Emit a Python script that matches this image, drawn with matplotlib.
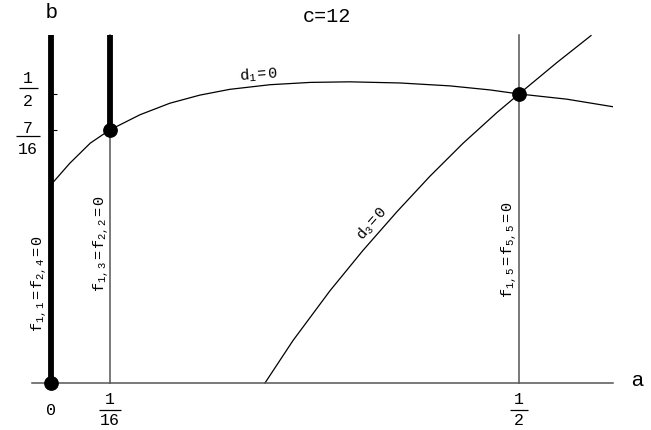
import matplotlib
matplotlib.use("Agg")
import matplotlib.pyplot as plt
from matplotlib.transforms import offset_copy

# monospace look for the maths labels
plt.rcParams['mathtext.fontset'] = 'custom'
plt.rcParams['mathtext.rm'] = 'Liberation Mono'
plt.rcParams['mathtext.it'] = 'Liberation Mono'
plt.rcParams['mathtext.bf'] = 'Liberation Mono'

MONO = 'Liberation Mono'

# * data
d1_a = [0.0, 0.020, 0.042, 0.0625, 0.095, 0.127, 0.159, 0.191, 0.234, 0.277,
        0.319, 0.373, 0.426, 0.469, 0.5, 0.551, 0.600]
d1_b = [0.343, 0.380, 0.415, 0.4375, 0.464, 0.484, 0.498, 0.508, 0.516, 0.520,
        0.521, 0.519, 0.514, 0.507, 0.5, 0.491, 0.478]

d3_a = [0.2286, 0.2585, 0.2981, 0.3333, 0.3697, 0.4049, 0.4402, 0.4765, 0.5,
        0.5406, 0.5769]
d3_b = [0.0, 0.0734, 0.1597, 0.2294, 0.2965, 0.3578, 0.4147, 0.4680, 0.5,
        0.5545, 0.601]

thin_a = [1/16, 1/2]          # thin vertical lines f=0
thick_a = [0, 1/16]           # thick vertical segments
thick_from = [0, 7/16]        # where the thick segments start
dots_a = [0, 1/16, 1/2]
dots_b = [0, 7/16, 1/2]

xmin, xmax = -0.0203, 0.6004
ymin, ymax = 0.0, 0.602

# * figure
fig = plt.figure(figsize=(6.51, 4.30), dpi=100)
ax = fig.add_axes([32/651, 47/430, 581/651, 348/430])
ax.set_xlim(xmin, xmax)
ax.set_ylim(ymin, ymax)

for s in ['top', 'right']:
    ax.spines[s].set_visible(False)
ax.spines['left'].set_position(('data', 0))
ax.spines['left'].set_visible(False)
ax.spines['bottom'].set_color('#555555')
ax.spines['bottom'].set_linewidth(1.1)

ax.set_xticks([0])
ax.set_xticklabels([''])
ax.set_yticks([7/16, 1/2])
ax.set_yticklabels(['', ''])
ax.tick_params(axis='x', direction='out', length=4, width=0.8, color='#555555')
ax.tick_params(axis='y', direction='in', length=4, width=0.8, color='k')

# thin lines
for xa in thin_a:
    ax.plot([xa, xa], [ymin, ymax], color='#555555', lw=1.1, clip_on=False)
# thick lines
for xa, y0 in zip(thick_a, thick_from):
    ax.plot([xa, xa], [y0, ymax], color='k', lw=4.2, solid_capstyle='butt', clip_on=False)

# curves
ax.plot(d1_a, d1_b, color='k', lw=0.9)
ax.plot(d3_a, d3_b, color='k', lw=0.9, clip_on=False)

# points
ax.plot(dots_a, dots_b, 'o', color='k', ms=9.6, clip_on=False, zorder=5)

# curve labels
ax.text(0.2222, 0.533, r'$\mathrm{d}_1\mathrm{=0}$', fontsize=11, ha='center', va='center', rotation=4)
ax.text(0.343, 0.275, r'$\mathrm{d}_3\mathrm{=0}$', fontsize=11, ha='center', va='center', rotation=49)
ax.text(-0.0128, 0.171, r'$\mathrm{f}_{1,1}\mathrm{=f}_{2,4}\mathrm{=0}$', fontsize=11,
        ha='center', va='center', rotation=90)
ax.text(0.0534, 0.2405, r'$\mathrm{f}_{1,3}\mathrm{=f}_{2,2}\mathrm{=0}$', fontsize=11,
        ha='center', va='center', rotation=90)
ax.text(0.4893, 0.2301, r'$\mathrm{f}_{1,5}\mathrm{=f}_{5,5}\mathrm{=0}$', fontsize=11,
        ha='center', va='center', rotation=90)


# ! fraction tick labels, offsets in pixels (up is positive)
def frac(x, y, num, den, dx, num_dy, bar_dy, den_dy, w):
    for txt, oy in ((num, num_dy), (den, den_dy)):
        ax.annotate(txt, (x, y), xytext=(dx*0.72, (oy - 5.3)*0.72), textcoords='offset points',
                    ha='center', va='baseline', fontsize=12, family=MONO, annotation_clip=False)
    ax.plot(x, y, marker='_', ms=w*0.72, mew=0.9, color='k', clip_on=False,
            transform=offset_copy(ax.transData, fig=fig, x=dx, y=bar_dy, units='dots'))


ax.annotate('0', (0, 0), xytext=(0, (-27 - 5.3)*0.72), textcoords='offset points',
            ha='center', va='baseline', fontsize=12, family=MONO, annotation_clip=False)
frac(1/16, 0, '1', '16', 0, -16, -27, -37, 23)
frac(1/2, 0, '1', '2', 0, -16, -27, -37, 18)
frac(0, 1/2, '1', '2', -23, 16, 6, -6.5, 19)
frac(0, 7/16, '7', '16', -23, 2.5, -6, -18.5, 24)

# titles and axis names
fig.text(327/651, 1 - 17/430, 'c=12', fontsize=14.5, family=MONO, ha='center', va='center')
fig.text(51/651, 1 - 12/430, 'b', fontsize=15, family='Liberation Sans', ha='center', va='center')
fig.text(637/651, 1 - 381/430, 'a', fontsize=15, family='Liberation Sans', ha='center', va='center')

fig.savefig('out.png', dpi=100)
